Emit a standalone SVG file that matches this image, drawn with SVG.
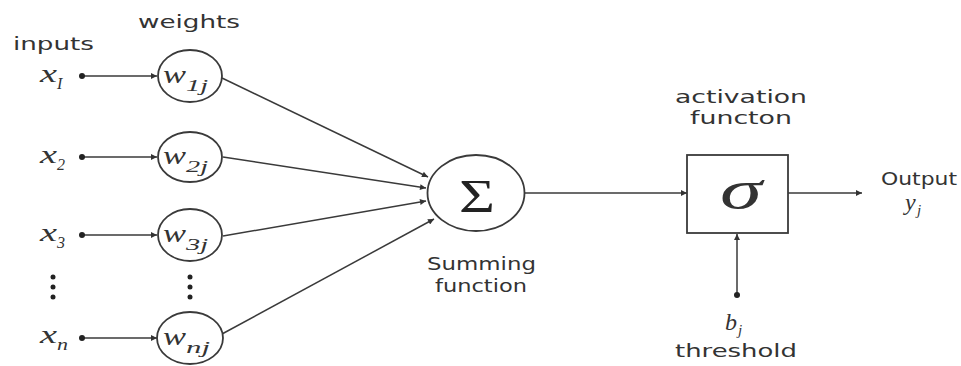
<svg xmlns="http://www.w3.org/2000/svg" width="961" height="366" viewBox="0 0 961 366">
  <style>
    .bg { fill: #ffffff; }
    .edge { stroke: #3a3a3a; stroke-width: 1.5; fill: none; }
    .shape { stroke: #3a3a3a; stroke-width: 1.8; fill: #ffffff; }
    .dot { fill: #222222; }
    .label { font-family: "DejaVu Sans", Verdana, sans-serif; font-size: 17px; fill: #333333; }
    .math { font-family: "Liberation Serif", "Times New Roman", serif; font-style: italic; fill: #333333; }
    .sym { font-family: "Liberation Serif", "Times New Roman", serif; fill: #222222; }
  </style>
  <defs>
    <marker id="arrow" viewBox="0 0 10 10" refX="10" refY="5" markerWidth="8" markerHeight="6" markerUnits="userSpaceOnUse" orient="auto">
      <path d="M0,0 L10,5 L0,10 z" fill="#333333"/>
    </marker>
  </defs>
  <rect class="bg" x="0" y="0" width="961" height="366"/>

  <!-- column headings -->
  <text class="label" x="13" y="50" textLength="81" lengthAdjust="spacingAndGlyphs">inputs</text>
  <text class="label" x="138" y="28" textLength="102" lengthAdjust="spacingAndGlyphs">weights</text>

  <!-- connectors -->
  <g id="connectors">
    <!-- inputs to weights -->
    <line class="edge" x1="82" y1="76" x2="157" y2="76" marker-end="url(#arrow)"/>
    <line class="edge" x1="82" y1="157" x2="157" y2="157" marker-end="url(#arrow)"/>
    <line class="edge" x1="82" y1="235" x2="157" y2="235" marker-end="url(#arrow)"/>
    <line class="edge" x1="82" y1="338" x2="157" y2="338" marker-end="url(#arrow)"/>
    <!-- weights to summing junction -->
    <line class="edge" x1="222" y1="78" x2="428" y2="177" marker-end="url(#arrow)"/>
    <line class="edge" x1="223" y1="157" x2="426" y2="188" marker-end="url(#arrow)"/>
    <line class="edge" x1="223" y1="236" x2="426" y2="201" marker-end="url(#arrow)"/>
    <line class="edge" x1="222" y1="334" x2="434" y2="219" marker-end="url(#arrow)"/>
    <!-- summing junction to activation -->
    <line class="edge" x1="524" y1="193" x2="687" y2="193" marker-end="url(#arrow)"/>
    <!-- activation to output -->
    <line class="edge" x1="788" y1="193" x2="862" y2="193" marker-end="url(#arrow)"/>
    <!-- threshold into activation -->
    <line class="edge" x1="737" y1="295" x2="737" y2="234" marker-end="url(#arrow)"/>
  </g>

  <!-- inputs -->
  <g id="input-x1">
    <text class="math" x="40" y="82" font-size="26" textLength="17" lengthAdjust="spacingAndGlyphs">x</text>
    <text class="math" x="57" y="89" font-size="16">I</text>
    <circle class="dot" cx="82" cy="76" r="3"/>
  </g>
  <g id="input-x2">
    <text class="math" x="40" y="163" font-size="26" textLength="17" lengthAdjust="spacingAndGlyphs">x</text>
    <text class="math" x="57" y="170" font-size="16">2</text>
    <circle class="dot" cx="82" cy="157" r="3"/>
  </g>
  <g id="input-x3">
    <text class="math" x="40" y="241" font-size="26" textLength="17" lengthAdjust="spacingAndGlyphs">x</text>
    <text class="math" x="57" y="248" font-size="16">3</text>
    <circle class="dot" cx="82" cy="235" r="3"/>
  </g>
  <g id="input-dots">
    <circle class="dot" cx="53" cy="277" r="2.5"/>
    <circle class="dot" cx="53" cy="287" r="2.5"/>
    <circle class="dot" cx="53" cy="297" r="2.5"/>
  </g>
  <g id="input-xn">
    <text class="math" x="40" y="343" font-size="26" textLength="17" lengthAdjust="spacingAndGlyphs">x</text>
    <text class="math" x="57" y="350" font-size="16" textLength="11" lengthAdjust="spacingAndGlyphs">n</text>
    <circle class="dot" cx="82" cy="338" r="3"/>
  </g>

  <!-- weights -->
  <g id="weight-w1j">
    <ellipse class="shape" cx="190" cy="76" rx="32" ry="26"/>
    <text class="math" x="163" y="83" font-size="26" textLength="23" lengthAdjust="spacingAndGlyphs">w</text>
    <text class="math" x="186" y="91" font-size="16" textLength="22" lengthAdjust="spacingAndGlyphs">1j</text>
  </g>
  <g id="weight-w2j">
    <ellipse class="shape" cx="190" cy="157" rx="32" ry="25"/>
    <text class="math" x="163" y="164" font-size="26" textLength="23" lengthAdjust="spacingAndGlyphs">w</text>
    <text class="math" x="186" y="172" font-size="16" textLength="22" lengthAdjust="spacingAndGlyphs">2j</text>
  </g>
  <g id="weight-w3j">
    <ellipse class="shape" cx="190" cy="235" rx="32" ry="26"/>
    <text class="math" x="163" y="242" font-size="26" textLength="23" lengthAdjust="spacingAndGlyphs">w</text>
    <text class="math" x="186" y="250" font-size="16" textLength="22" lengthAdjust="spacingAndGlyphs">3j</text>
  </g>
  <g id="weight-dots">
    <circle class="dot" cx="190" cy="277" r="2.5"/>
    <circle class="dot" cx="190" cy="287" r="2.5"/>
    <circle class="dot" cx="190" cy="297" r="2.5"/>
  </g>
  <g id="weight-wnj">
    <ellipse class="shape" cx="190" cy="338" rx="33" ry="26"/>
    <text class="math" x="163" y="345" font-size="26" textLength="23" lengthAdjust="spacingAndGlyphs">w</text>
    <text class="math" x="186" y="353" font-size="16" textLength="24" lengthAdjust="spacingAndGlyphs">nj</text>
  </g>

  <!-- summing junction -->
  <g id="summing">
    <ellipse class="shape" cx="476" cy="193" rx="48.5" ry="38"/>
    <text class="sym" x="459" y="212" font-size="46" textLength="36" lengthAdjust="spacingAndGlyphs">Σ</text>
    <text class="label" x="427" y="270" textLength="109" lengthAdjust="spacingAndGlyphs">Summing</text>
    <text class="label" x="435" y="292" textLength="92" lengthAdjust="spacingAndGlyphs">function</text>
  </g>

  <!-- activation function -->
  <g id="activation">
    <text class="label" x="675" y="103" textLength="132" lengthAdjust="spacingAndGlyphs">activation</text>
    <text class="label" x="690" y="124" textLength="102" lengthAdjust="spacingAndGlyphs">functon</text>
    <rect class="shape" x="687" y="155" width="101" height="78"/>
    <text class="math" x="720" y="208" font-size="54" textLength="42" lengthAdjust="spacingAndGlyphs" fill="#1e1e1e">σ</text>
  </g>

  <!-- output -->
  <g id="output">
    <text class="label" x="881" y="185" textLength="76" lengthAdjust="spacingAndGlyphs">Output</text>
    <text class="math" x="905" y="210" font-size="24">y</text>
    <text class="math" x="917" y="215" font-size="15">j</text>
  </g>

  <!-- threshold -->
  <g id="threshold">
    <circle class="dot" cx="737" cy="295" r="3"/>
    <text class="math" x="725" y="330" font-size="24">b</text>
    <text class="math" x="738" y="335" font-size="15">j</text>
    <text class="label" x="675" y="357" textLength="122" lengthAdjust="spacingAndGlyphs">threshold</text>
  </g>
</svg>
